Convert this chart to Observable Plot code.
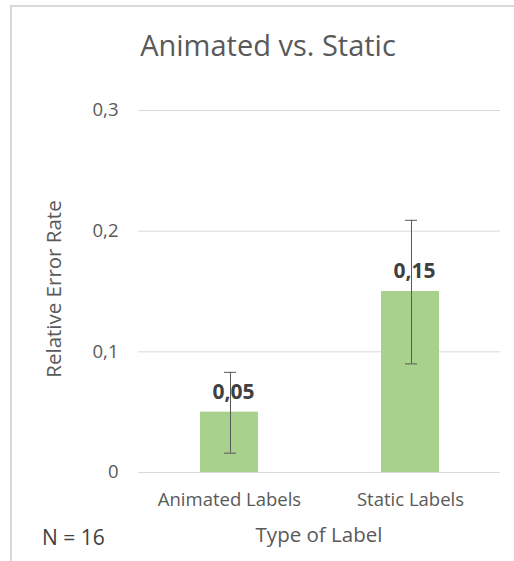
<!DOCTYPE html>
<html>
<head>
<meta charset="utf-8">
<script src="https://cdn.jsdelivr.net/npm/d3@7"></script>
<script src="https://cdn.jsdelivr.net/npm/@observablehq/plot@0.6"></script>
<style>
  html, body { margin: 0; padding: 0; background: #fff; }
  #chart { position: relative; width: 514px; height: 561px; overflow: hidden; }
</style>
</head>
<body>
<div id="chart"></div>
<script>
const categories = ["Animated Labels", "Static Labels"];
const values = [0.05, 0.15];
const errLow = [0.016, 0.09];
const errHigh = [0.083, 0.209];
const valueLabels = ["0,05", "0,15"];
const yTicks = [0, 0.1, 0.2, 0.3];
const yTickLabels = ["0", "0,1", "0,2", "0,3"];
const title = "Animated vs. Static";
const yTitle = "Relative Error Rate";
const xTitle = "Type of Label";
const note = "N = 16";

const data = categories.map((c, i) => ({
  cat: c, value: values[i], lo: errLow[i], hi: errHigh[i], label: valueLabels[i]
}));

const W = 514, H = 561;
const mL = 138, mR = 14, mT = 110, mB = 89;
const font = "'Open Sans', 'DejaVu Sans', sans-serif";

const plot = Plot.plot({
  width: W,
  height: H,
  marginLeft: mL,
  marginRight: mR,
  marginTop: mT,
  marginBottom: mB,
  style: { fontFamily: font, background: "#fff", overflow: "visible" },
  x: { domain: categories, paddingInner: 0.68, paddingOuter: 0.34, label: null },
  y: { domain: [0, 0.3], label: null },
  marks: [
    Plot.gridY(yTicks, { stroke: "#d9d9d9", strokeOpacity: 1, strokeWidth: 1 }),
    Plot.barY(data, { x: "cat", y: "value", fill: "#a9d18e" }),
    Plot.ruleY([0], { stroke: "#d9d9d9", strokeWidth: 1 }),
    Plot.ruleX(data, { x: "cat", y1: "lo", y2: "hi", stroke: "#595959", strokeWidth: 1, dx: 1 }),
    Plot.tickY(data, { x: "cat", y: "lo", stroke: "#595959", strokeWidth: 1, insetLeft: 24, insetRight: 22 }),
    Plot.tickY(data, { x: "cat", y: "hi", stroke: "#595959", strokeWidth: 1, insetLeft: 24, insetRight: 22 }),
    Plot.text(data, { x: "cat", y: "value", text: "label", dy: -20, dx: 4, fontWeight: "bold", fontSize: 21, fill: "#404040" }),
    Plot.axisY(yTicks, {
      tickSize: 0, tickPadding: 20, fontSize: 18.5, color: "#595959",
      tickFormat: (d) => yTickLabels[yTicks.indexOf(d)], label: null
    }),
    Plot.axisX({ tickSize: 0, tickPadding: 20, fontSize: 18.5, color: "#595959", label: null })
  ]
});

document.getElementById("chart").appendChild(plot);

const svg = d3.select(plot);
// chart area border
svg.append("line").attr("x1", 11).attr("x2", 11).attr("y1", 6).attr("y2", H)
  .attr("stroke", "#d9d9d9").attr("stroke-width", 2);
svg.append("line").attr("x1", 10).attr("x2", W).attr("y1", 6).attr("y2", 6)
  .attr("stroke", "#d9d9d9").attr("stroke-width", 2);

svg.append("text").text(title)
  .attr("x", 268).attr("y", 56).attr("text-anchor", "middle")
  .attr("font-size", 29).attr("fill", "#595959").attr("font-family", font);

svg.append("text").text(yTitle)
  .attr("transform", "translate(61,289) rotate(-90)").attr("text-anchor", "middle")
  .attr("font-size", 20.5).attr("fill", "#595959").attr("font-family", font);

svg.append("text").text(xTitle)
  .attr("x", 319).attr("y", 542).attr("text-anchor", "middle")
  .attr("font-size", 20.5).attr("fill", "#595959").attr("font-family", font);

svg.append("text").text(note)
  .attr("x", 42).attr("y", 545).attr("text-anchor", "start")
  .attr("font-size", 21).attr("fill", "#404040").attr("font-family", font);
</script>
</body>
</html>
